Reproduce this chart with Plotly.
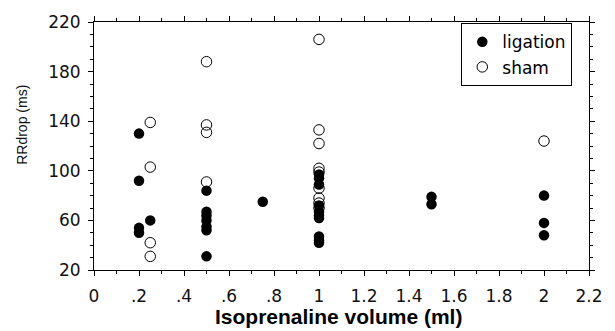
import plotly.graph_objects as go

# Data
lig_x = [0.2, 0.2, 0.2, 0.2,
         0.25,
         0.5, 0.5, 0.5, 0.5, 0.5, 0.5, 0.5,
         0.75,
         1, 1, 1, 1, 1, 1, 1, 1, 1, 1,
         1.5, 1.5,
         2, 2, 2]
lig_y = [130, 92, 54, 50,
         60,
         84, 67, 64, 60, 55, 52, 31,
         75,
         97, 94, 89, 72, 67, 64, 62, 47, 44, 42,
         79, 73,
         80, 58, 48]

sham_x = [0.25, 0.25, 0.25, 0.25,
          0.5, 0.5, 0.5, 0.5,
          1, 1, 1, 1, 1, 1, 1, 1, 1,
          2]
sham_y = [139, 103, 42, 31,
          188, 137, 131, 91,
          206, 133, 122, 102, 99, 86, 78, 74, 70,
          124]

x_tickvals = [0, 0.2, 0.4, 0.6, 0.8, 1, 1.2, 1.4, 1.6, 1.8, 2, 2.2]
x_ticktext = ["0", ".2", ".4", ".6", ".8", "1", "1.2", "1.4", "1.6", "1.8", "2", "2.2"]
y_tickvals = [20, 60, 100, 140, 180, 220]
y_ticktext = ["20", "60", "100", "140", "180", "220"]

fig = go.Figure()
fig.add_trace(go.Scatter(
    x=lig_x, y=lig_y, mode="markers", name="ligation",
    marker=dict(symbol="circle", size=10.5, color="black", line=dict(width=0)),
))
fig.add_trace(go.Scatter(
    x=sham_x, y=sham_y, mode="markers", name="sham",
    marker=dict(symbol="circle-open", size=10.5, color="black", line=dict(width=1)),
))

axis_common = dict(
    showline=True, linecolor="black", linewidth=1, mirror="ticks",
    ticks="outside", ticklen=5, tickcolor="black", tickwidth=1,
    showgrid=False, zeroline=False,
    tickfont=dict(family="DejaVu Sans", size=17, color="#111111"),
)

fig.update_xaxes(
    range=[0, 2.2], tickmode="array", tickvals=x_tickvals, ticktext=x_ticktext,
    minor=dict(dtick=0.1, ticks="outside", ticklen=3, tickcolor="black", showgrid=False),
    ticklabelstandoff=6,
    **axis_common,
)
fig.update_yaxes(
    range=[20, 220], tickmode="array", tickvals=y_tickvals, ticktext=y_ticktext,
    minor=dict(dtick=10, ticks="outside", ticklen=3, tickcolor="black", showgrid=False),
    ticklabelstandoff=4,
    **axis_common,
)

fig.update_layout(
    width=615, height=331,
    margin=dict(l=94, r=13, t=16, b=61),
    plot_bgcolor="white", paper_bgcolor="white",
    showlegend=True,
    legend=dict(
        x=0.742, y=0.995, xanchor="left", yanchor="top",
        bordercolor="black", borderwidth=1, bgcolor="white",
        font=dict(family="DejaVu Sans", size=17, color="black"),
        itemwidth=30, tracegroupgap=0,
    ),
    annotations=[
        dict(text="RRdrop (ms)", textangle=-90, xref="paper", yref="paper",
             x=-0.1457, y=0.585, xanchor="center", yanchor="middle", showarrow=False,
             font=dict(family="Liberation Sans", size=14, color="#111111")),
        dict(text="<b>Isoprenaline volume (ml)</b>", xref="paper", yref="paper",
             x=0.493, y=-0.189, xanchor="center", yanchor="middle", showarrow=False,
             font=dict(family="Liberation Sans", size=21, color="black")),
    ],
)

fig.write_html("out.html")
